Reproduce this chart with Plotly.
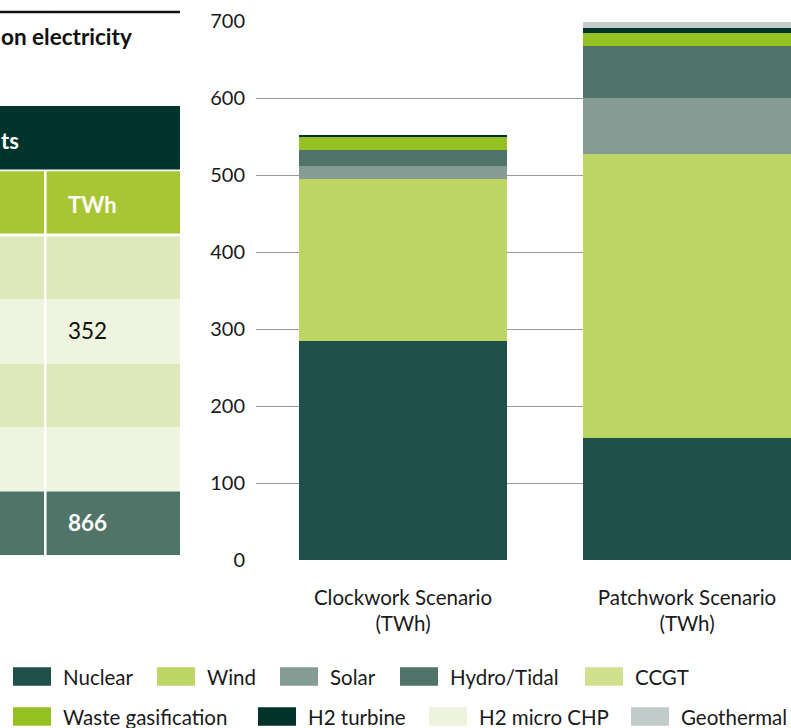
import plotly.graph_objects as go

# ---------------- data ----------------
scenarios = ["Clockwork Scenario<br>(TWh)", "Patchwork Scenario<br>(TWh)"]
nuclear = [285, 159]
wind = [210, 368]
solar = [16.5, 73]
hydro_tidal = [20.5, 67]
ccgt = [0, 0]
waste_gasification = [17, 18]
h2_turbine = [3.5, 5.5]
h2_micro_chp = [0, 0]
geothermal = [0, 8.5]
y_ticks = [0, 100, 200, 300, 400, 500, 600, 700]

series_names = ["Nuclear", "Wind", "Solar", "Hydro/Tidal", "CCGT",
                "Waste gasification", "H2 turbine", "H2 micro CHP", "Geothermal"]
series_values = [nuclear, wind, solar, hydro_tidal, ccgt,
                 waste_gasification, h2_turbine, h2_micro_chp, geothermal]
series_colors = ["#1F504A", "#BDD565", "#859C94", "#50746A", "#D0E08F",
                 "#95C123", "#01332B", "#EEF3DE", "#C1CBC9"]

# partial table visible on the left (cropped)
table_title = "on electricity"
table_header = "ts"
table_col_header = "TWh"
table_twh = ["", "352", "", "", "866"]

# ---------------- layout constants ----------------
W, H = 791, 728
L, R, T, B = 256, 0, 21, 168
PW, PH = W - L - R, H - T - B
FONT = "Lato, 'Open Sans', sans-serif"


def px(x):
    return (x - L) / PW


def py(y):
    return 1 - (y - T) / PH


fig = go.Figure()
for name, vals, col in zip(series_names, series_values, series_colors):
    fig.add_trace(go.Bar(x=scenarios, y=vals, name=name,
                         marker=dict(color=col, line=dict(width=0)),
                         showlegend=False))

shapes = []
annotations = []

# ---- table (left, cropped) ----
shapes.append(dict(type="line", xref="paper", yref="paper",
                   x0=px(0), x1=px(180), y0=py(12), y1=py(12),
                   line=dict(color="#111111", width=2.5)))
annotations.append(dict(xref="paper", yref="paper", x=px(-1), y=py(37),
                        xanchor="left", yanchor="middle", showarrow=False,
                        text="<b>" + table_title + "</b>",
                        font=dict(family=FONT, size=22.5, color="#111111")))
shapes.append(dict(type="rect", xref="paper", yref="paper", layer="above",
                   x0=px(-5), x1=px(180), y0=py(106), y1=py(169.5),
                   fillcolor="#00342D", line=dict(width=0)))
annotations.append(dict(xref="paper", yref="paper", x=px(-1), y=py(140),
                        xanchor="left", yanchor="middle", showarrow=False,
                        text="<b>" + table_header + "</b>",
                        font=dict(family=FONT, size=22, color="#FFFFFF")))
shapes.append(dict(type="rect", xref="paper", yref="paper",
                   x0=px(-5), x1=px(180), y0=py(171.3), y1=py(233.5),
                   fillcolor="#A8C634", line=dict(width=0)))
annotations.append(dict(xref="paper", yref="paper", x=px(66), y=py(204),
                        xanchor="left", yanchor="middle", showarrow=False,
                        text="<b>" + table_col_header + "</b>",
                        font=dict(family=FONT, size=22, color="#FFFFFF")))
row_edges = [236.5, 299, 364, 427, 491.5, 555]
row_colors = ["#DFE8BA", "#EEF4DF", "#DFE8BA", "#EEF4DF", "#507468"]
row_text_colors = ["#111111", "#111111", "#111111", "#111111", "#FFFFFF"]
for i, val in enumerate(table_twh):
    y0, y1 = row_edges[i], row_edges[i + 1]
    shapes.append(dict(type="rect", xref="paper", yref="paper",
                       x0=px(-5), x1=px(180), y0=py(y0), y1=py(y1),
                       fillcolor=row_colors[i], line=dict(width=0)))
    if val:
        txt = "<b>" + val + "</b>" if i == len(table_twh) - 1 else val
        annotations.append(dict(xref="paper", yref="paper", x=px(66),
                                y=py((y0 + y1) / 2 - 1), xanchor="left",
                                yanchor="middle", showarrow=False, text=txt,
                                font=dict(family=FONT, size=22.5,
                                          color=row_text_colors[i])))
shapes.append(dict(type="line", xref="paper", yref="paper",
                   x0=px(45.3), x1=px(45.3), y0=py(171), y1=py(555),
                   line=dict(color="#FFFFFF", width=2.5)))

# ---- manual legend ----
legend_pos = [  # (square left x, row center y)
    (13, 676.5), (157, 676.5), (280, 676.5), (400, 676.5), (585, 676.5),
    (13, 716.5), (258, 716.5), (429, 716.5), (631, 716.5)]
for name, col, (lx, ly) in zip(series_names, series_colors, legend_pos):
    shapes.append(dict(type="rect", xref="paper", yref="paper",
                       x0=px(lx), x1=px(lx + 38), y0=py(ly - 9.3), y1=py(ly + 9.3),
                       fillcolor=col, line=dict(width=0)))
    annotations.append(dict(xref="paper", yref="paper", x=px(lx + 48),
                            y=py(ly), xanchor="left", yanchor="middle",
                            showarrow=False, text=name,
                            font=dict(family=FONT, size=20.5, color="#1A1A1A")))

fig.update_layout(
    width=W, height=H,
    margin=dict(l=L, r=R, t=T, b=B, pad=0),
    paper_bgcolor="#FFFFFF", plot_bgcolor="#FFFFFF",
    barmode="stack", bargap=0.268,
    showlegend=False,
    font=dict(family=FONT, size=19, color="#1A1A1A"),
    shapes=shapes, annotations=annotations,
    xaxis=dict(type="category", range=[-0.5176, 1.366], showgrid=False,
               showline=False, zeroline=False, ticks="",
               tickfont=dict(family=FONT, size=20.5, color="#1A1A1A"),
               ticklabelstandoff=23),
    yaxis=dict(range=[0, 700], tickvals=y_ticks, showgrid=True,
               gridcolor="#9A9A9A", gridwidth=1.2, zeroline=False,
               showline=False, ticks="",
               tickfont=dict(family=FONT, size=20, color="#1A1A1A"),
               ticklabelstandoff=10),
)

fig.write_html("out.html", config={"displayModeBar": False},
               post_script="document.body.style.margin='0';document.body.style.overflow='hidden';")
